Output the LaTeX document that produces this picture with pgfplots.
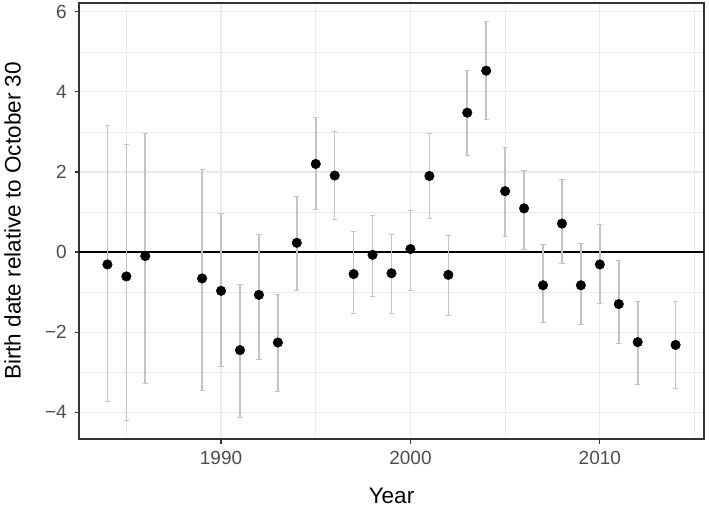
\documentclass[border=0pt]{standalone}
\usepackage{fontspec}
\setmainfont{Liberation Sans}
\usepackage{pgfplots}
\usepackage{pgfplotstable}
\pgfplotsset{compat=1.18}

\definecolor{gridgrey}{HTML}{EBEBEB}
\definecolor{bordergrey}{HTML}{333333}
\definecolor{ticktext}{HTML}{4D4D4D}
\definecolor{barcol}{HTML}{C4C4C4}

% year, estimate, upper error, lower error
\pgfplotstableread{
year  y      ep     em
1984  -0.31  3.46   3.43
1985  -0.61  3.29   3.59
1986  -0.10  3.07   3.18
1989  -0.66  2.71   2.79
1990  -0.97  1.94   1.90
1991  -2.45  1.65   1.68
1992  -1.07  1.51   1.62
1993  -2.26  1.20   1.23
1994   0.23  1.15   1.20
1995   2.20  1.17   1.15
1996   1.91  1.11   1.11
1997  -0.55  1.07   0.99
1998  -0.07  0.97   1.05
1999  -0.53  0.98   1.00
2000   0.075 0.965  1.025
2001   1.90  1.05   1.06
2002  -0.57  0.98   1.02
2003   3.48  1.05   1.06
2004   4.53  1.22   1.23
2005   1.52  1.08   1.12
2006   1.09  0.94   1.02
2007  -0.83  1.01   0.93
2008   0.71  1.11   0.99
2009  -0.83  1.04   0.98
2010  -0.31  1.01   0.97
2011  -1.30  1.09   0.99
2012  -2.25  1.01   1.07
2014  -2.32  1.08   1.10
}\births

\begin{document}
\begin{tikzpicture}
\useasboundingbox (-79pt,-73pt) rectangle (630pt,439pt);
\begin{axis}[
    at={(0pt,0pt)}, anchor=south west,
    scale only axis,
    width=625pt, height=436pt,
    xmin=1982.5, xmax=2015.5,
    ymin=-4.67, ymax=6.22,
    xtick={1990,2000,2010},
    minor xtick={1985,1995,2005,2015},
    ytick={-4,-2,0,2,4,6},
    yticklabels={−4,−2,0,2,4,6},
    minor ytick={-3,-1,1,3,5},
    grid=both,
    major grid style={gridgrey, line width=1.1pt},
    minor grid style={gridgrey, line width=0.55pt},
    axis line style={bordergrey, line width=1.2pt},
    tick style={bordergrey, line width=1.1pt},
    tick align=outside,
    major tick length=4.5pt,
    minor tick length=0pt,
    xtick pos=lower, ytick pos=left,
    /pgf/number format/1000 sep={},
    /pgf/number format/assume math mode=true,
    tick label style={font=\fontsize{19}{19}\selectfont, text=ticktext, inner sep=0pt},
    xticklabel style={anchor=north, yshift=-8pt},
    yticklabel style={anchor=east, xshift=-7.5pt},
    label style={font=\fontsize{22.5}{22.5}\selectfont, inner sep=0pt},
    xlabel={Year},
    xlabel style={at={(axis description cs:0.5,-0.1307)}, anchor=center},
    ylabel={Birth date relative to October 30},
    ylabel style={at={(axis description cs:-0.1064,0.5)}, anchor=center},
]
\addplot[black, line width=1.3pt] coordinates {(1982.5,0) (2015.5,0)};
\addplot[
    only marks,
    mark=*,
    mark size=4.8pt,
    mark options={black, fill=black},
    error bars/.cd,
        y dir=both, y explicit,
        error bar style={barcol, line width=1.6pt},
        error mark options={barcol, rotate=90, line width=1.0pt, mark size=2.6pt},
] table[x=year, y=y, y error plus=ep, y error minus=em] {\births};
\end{axis}
\end{tikzpicture}
\end{document}
